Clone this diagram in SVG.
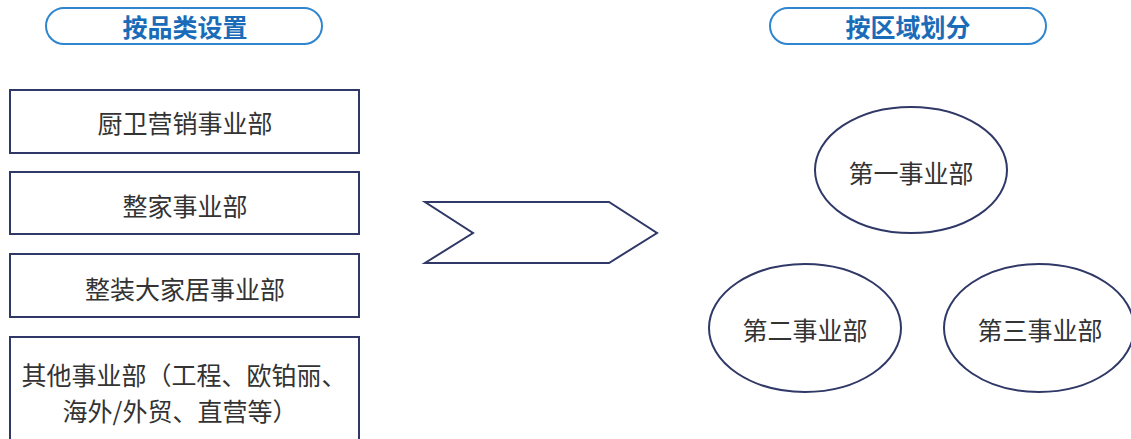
<svg xmlns="http://www.w3.org/2000/svg" width="1131" height="439" viewBox="0 0 1131 439">
<style>
.pill{fill:#fff;stroke:#2f86cf;stroke-width:2}
.ptxt{font-family:"Noto Sans CJK SC","Noto Sans",sans-serif;font-weight:bold;font-size:25px;fill:#1a6cb8;text-anchor:middle;dominant-baseline:central}
.box{fill:#fff;stroke:#2f3866;stroke-width:2}
.txt{font-family:"Noto Sans CJK SC","Noto Sans",sans-serif;font-size:25px;fill:#333;dominant-baseline:central}
.mid{text-anchor:middle}
</style>
<rect width="1131" height="439" fill="#fff"/>
<g id="title-left"><rect class="pill" x="46" y="8" width="276" height="36" rx="18"/><text class="ptxt" x="185" y="26">按品类设置</text></g>
<g id="title-right"><rect class="pill" x="770" y="8" width="276" height="36" rx="18"/><text class="ptxt" x="908" y="26">按区域划分</text></g>
<g id="box1"><rect class="box" x="10" y="90" width="349" height="63"/><text class="txt mid" x="185" y="122">厨卫营销事业部</text></g>
<g id="box2"><rect class="box" x="10" y="172" width="349" height="62"/><text class="txt mid" x="185" y="205">整家事业部</text></g>
<g id="box3"><rect class="box" x="10" y="254" width="349" height="63"/><text class="txt mid" x="185" y="288">整装大家居事业部</text></g>
<g id="box4"><rect class="box" x="10" y="337" width="349" height="110"/><text class="txt mid" x="184" y="374">其他事业部（工程、欧铂丽、</text><text class="txt mid" x="180" y="410">海外/外贸、直营等）</text></g>
<g id="connectors"><polygon points="425,202 609,202 657,233 609,263 425,263 473,233" fill="#fff" stroke="#2f3866" stroke-width="2" stroke-linejoin="miter"/></g>
<g id="e1"><ellipse class="box" cx="911" cy="170" rx="96" ry="63"/><text class="txt mid" x="911" y="172">第一事业部</text></g>
<g id="e2"><ellipse class="box" cx="805" cy="328" rx="96" ry="64"/><text class="txt mid" x="805" y="329">第二事业部</text></g>
<g id="e3"><ellipse class="box" cx="1039" cy="328" rx="95" ry="64"/><text class="txt mid" x="1040" y="329">第三事业部</text></g>
</svg>
